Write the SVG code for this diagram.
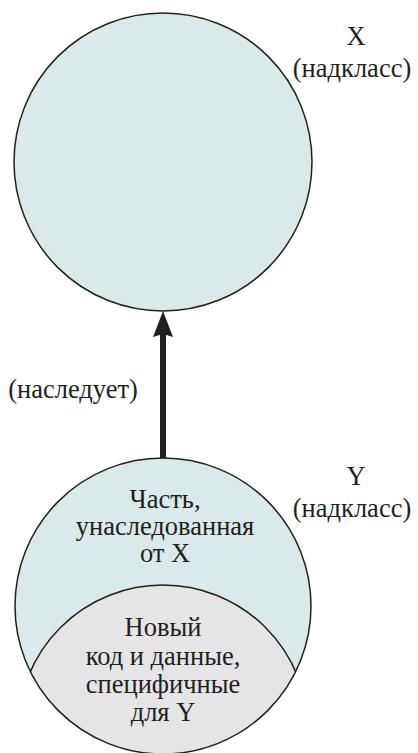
<svg xmlns="http://www.w3.org/2000/svg" width="418" height="753" viewBox="0 0 418 753">
<style>
.t{font-family:"Liberation Serif","Times New Roman",serif;font-size:26.5px;fill:#231f20;text-anchor:middle}
.c{stroke:#231f20;stroke-width:1.5}
</style>
<defs>
<marker id="ah" markerUnits="userSpaceOnUse" markerWidth="28" markerHeight="22" refX="8" refY="11" orient="auto" viewBox="0 0 28 22">
<path d="M27,11 L1,1 L4,11 L1,21 Z" fill="#231f20"/>
</marker>
<clipPath id="yc"><circle cx="163" cy="606" r="148"/></clipPath>
</defs>
<g id="X">
<circle class="c" cx="163" cy="162" r="149" fill="#daeaea"/>
<text class="t" x="356" y="45">X</text>
<text class="t" x="352" y="77">(надкласс)</text>
</g>
<g id="Y">
<circle cx="163" cy="606" r="148" fill="#daeaea"/>
<circle cx="163" cy="730" r="145" fill="#e5e5e7" stroke="#231f20" stroke-width="1.5" clip-path="url(#yc)"/>
<circle class="c" cx="163" cy="606" r="148" fill="none"/>
<text class="t" x="165" y="508">Часть,</text>
<text class="t" x="165" y="535">унаследованная</text>
<text class="t" x="165" y="562">от X</text>
<text class="t" x="163" y="636">Новый</text>
<text class="t" x="163" y="665">код и данные,</text>
<text class="t" x="163" y="693">специфичные</text>
<text class="t" x="163" y="721">для Y</text>
<text class="t" x="356" y="485">Y</text>
<text class="t" x="352" y="517">(надкласс)</text>
</g>
<g id="connectors">
<line x1="163" y1="458" x2="163" y2="330" stroke="#231f20" stroke-width="6" marker-end="url(#ah)"/>
<text class="t" x="73" y="398">(наследует)</text>
</g>
</svg>
